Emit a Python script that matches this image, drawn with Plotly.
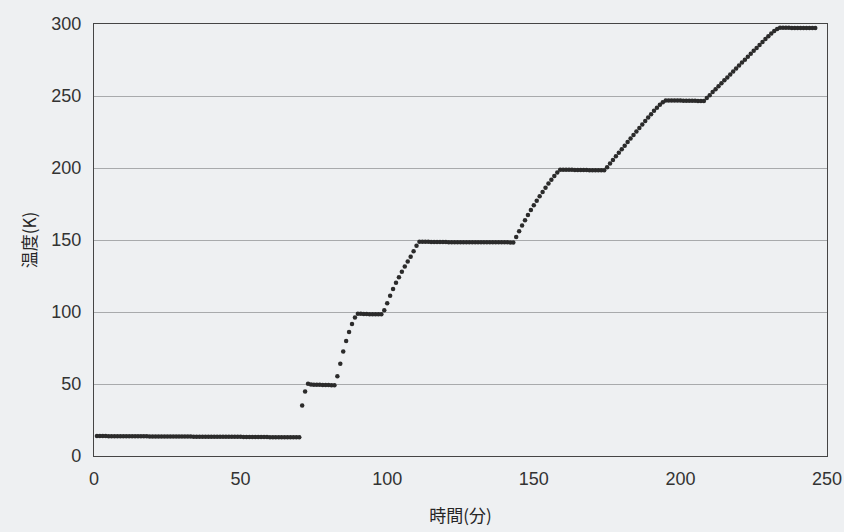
import plotly.graph_objects as go

# Temperature log, sampled once per minute
temps_k = [
    # holding at base temperature
    13.9, 13.9, 13.9, 13.9, 13.8, 13.8, 13.8, 13.8, 13.8, 13.8,
    13.8, 13.7, 13.7, 13.7, 13.7, 13.7, 13.7, 13.7, 13.6, 13.6,
    13.6, 13.6, 13.6, 13.6, 13.6, 13.5, 13.5, 13.5, 13.5, 13.5,
    13.5, 13.5, 13.5, 13.4, 13.4, 13.4, 13.4, 13.4, 13.4, 13.4,
    13.4, 13.3, 13.3, 13.3, 13.3, 13.3, 13.3, 13.3, 13.3, 13.3,
    13.2, 13.2, 13.2, 13.2, 13.2, 13.2, 13.2, 13.2, 13.2, 13.1,
    13.1, 13.1, 13.1, 13.1, 13.1, 13.1, 13.1, 13.0, 13.0, 13.0,
    # step to 50 K
    35.0, 44.8, 50.2,
    49.6, 49.5, 49.4, 49.4, 49.3, 49.3, 49.3, 49.2, 49.2,
    # step to 100 K
    55.3, 64.0, 72.6, 79.8, 86.1, 91.7, 96.2,
    98.8, 98.7, 98.6, 98.6, 98.5, 98.5, 98.5, 98.4, 98.4,
    # step to 150 K
    101.3, 106.0, 111.2, 116.0, 120.3, 124.2, 128.0, 131.6, 135.0, 138.3,
    142.2, 146.0,
    148.8, 148.7, 148.7, 148.7, 148.6, 148.6, 148.6, 148.6, 148.6, 148.6,
    148.5, 148.5, 148.5, 148.5, 148.5, 148.5, 148.5, 148.5, 148.5, 148.5,
    148.5, 148.5, 148.5, 148.4, 148.4, 148.4, 148.4, 148.4, 148.4, 148.4,
    148.4, 148.3, 148.3,
    # step to 200 K
    152.1, 156.0, 160.1, 163.7, 167.3, 170.8, 174.2, 177.3, 180.4, 183.4,
    186.3, 189.2, 191.9, 194.5, 196.9,
    198.8, 198.8, 198.7, 198.7, 198.7, 198.6, 198.6, 198.6, 198.6, 198.6,
    198.5, 198.5, 198.5, 198.5, 198.5, 198.5,
    # step to 250 K
    200.6, 203.1, 205.6, 208.1, 210.6, 213.0, 215.5, 218.0, 220.5, 222.9,
    225.3, 227.8, 230.2, 232.6, 235.0, 237.4, 239.7, 241.9, 243.9, 245.6,
    246.9, 246.9, 246.8, 246.8, 246.8, 246.8, 246.7, 246.7, 246.7, 246.7,
    246.7, 246.6, 246.6, 246.6,
    # step to 300 K
    248.6, 250.6, 252.7, 254.7, 256.8, 258.8, 260.9, 262.9, 265.0, 267.0,
    269.1, 271.1, 273.2, 275.2, 277.3, 279.3, 281.4, 283.4, 285.5, 287.5,
    289.5, 291.5, 293.4, 295.2, 296.6,
    297.4, 297.4, 297.4, 297.4, 297.3, 297.3, 297.3, 297.3, 297.3, 297.3,
    297.2, 297.2, 297.2,
]
minutes = list(range(1, len(temps_k) + 1))

x_ticks = [0, 50, 100, 150, 200, 250]
y_ticks = [0, 50, 100, 150, 200, 250, 300]

paper = "#eef0f2"
tick_font = dict(family="Liberation Sans, Arial, sans-serif", size=18, color="#333333")
title_font = dict(family="Noto Sans CJK JP, sans-serif", size=17, color="#262626")

fig = go.Figure(
    go.Scatter(
        x=minutes,
        y=temps_k,
        mode="markers",
        marker=dict(symbol="circle", size=4.5, color="#2b2b2b"),
        showlegend=False,
    )
)

fig.update_layout(
    width=844,
    height=532,
    margin=dict(l=94, r=17, t=24, b=76),
    paper_bgcolor=paper,
    plot_bgcolor=paper,
)

fig.update_xaxes(
    range=[0, 250],
    tickvals=x_ticks,
    ticktext=[str(v) for v in x_ticks],
    showgrid=False,
    zeroline=False,
    showline=True,
    linecolor="#454545",
    linewidth=1.4,
    mirror=True,
    ticks="",
    tickfont=tick_font,
    ticklabelstandoff=6,
    automargin=False,
    title=dict(text="時間(分)", font=title_font, standoff=22),
)

fig.update_yaxes(
    range=[0, 300],
    tickvals=y_ticks,
    ticktext=[str(v) for v in y_ticks],
    showgrid=True,
    gridcolor="#a8aaac",
    gridwidth=1,
    zeroline=False,
    showline=True,
    linecolor="#454545",
    linewidth=1.4,
    mirror=True,
    ticks="",
    tickfont=tick_font,
    ticklabelstandoff=8,
    automargin=False,
    title=dict(text="温度(K)", font=title_font, standoff=10),
)

fig.write_html("out.html")
